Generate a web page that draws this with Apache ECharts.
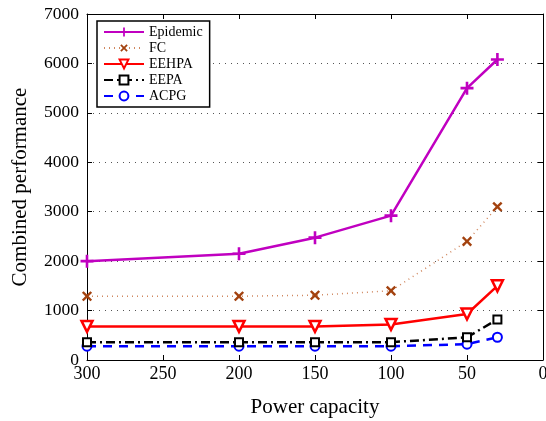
<!DOCTYPE html>
<html>
<head>
<meta charset="utf-8">
<script src="https://cdn.jsdelivr.net/npm/echarts@6/dist/echarts.min.js"></script>
<style>
  html, body { margin: 0; padding: 0; background: #fff; }
  #chart { width: 546px; height: 421px; }
</style>
</head>
<body>
<div id="chart"></div>
<script>
// power capacity values on the x axis
const capacity = [300, 200, 150, 100, 50, 30]
const xTicks = [0, 50, 100, 150, 200, 250, 300]
const yTicks = [0, 1000, 2000, 3000, 4000, 5000, 6000, 7000]

const epidemic = [2000, 2150, 2475, 2920, 5500, 6080]
const fc = [1290, 1290, 1310, 1400, 2400, 3100]
const eehpa = [680, 680, 680, 720, 930, 1500]
const eepa = [360, 360, 360, 360, 460, 820]
const acpg = [280, 280, 280, 280, 320, 460]

const font = 'Liberation Serif'
const plus = 'path://M4,0H6V4H10V6H6V10H4V6H0V4H4Z'

function pairs (vals) {
  return capacity.map((c, i) => [c, vals[i]])
}

const chart = echarts.init(document.getElementById('chart'))

const baseX = {
  type: 'value',
  inverse: true,
  min: xTicks[0],
  max: xTicks[xTicks.length - 1],
  interval: 50,
  axisLine: { onZero: false, lineStyle: { color: '#000', width: 1 } },
  axisTick: { inside: true, length: 5, lineStyle: { color: '#000' } },
  splitLine: { show: false }
}
const baseY = {
  type: 'value',
  min: yTicks[0],
  max: yTicks[yTicks.length - 1],
  interval: 1000,
  axisLine: { show: true, onZero: false, lineStyle: { color: '#000', width: 1 } },
  axisTick: { show: true, inside: true, length: 5, lineStyle: { color: '#000' } }
}

const option = {
  animation: false,
  backgroundColor: '#fff',
  textStyle: { fontFamily: font },
  grid: { left: 87, right: 3, top: 14, bottom: 61, containLabel: false, outerBoundsMode: 'none' },
  legend: {
    orient: 'vertical',
    left: 97,
    top: 21,
    itemWidth: 40,
    itemHeight: 11,
    itemGap: 2,
    padding: [4, 7, 4, 6],
    borderColor: '#000',
    borderWidth: 1.5,
    backgroundColor: '#fff',
    textStyle: { fontFamily: font, fontSize: 14, color: '#000' },
    data: ['Epidemic', 'FC', 'EEHPA', 'EEPA', 'ACPG']
  },
  xAxis: [
    Object.assign({}, baseX, {
      position: 'bottom',
      name: 'Power capacity',
      nameLocation: 'middle',
      nameGap: 37,
      nameTextStyle: { fontFamily: font, fontSize: 21, color: '#000' },
      axisLabel: { color: '#000', fontSize: 18, fontFamily: font, margin: 5 }
    }),
    Object.assign({}, baseX, { position: 'top', axisLabel: { show: false } })
  ],
  yAxis: [
    Object.assign({}, baseY, {
      position: 'left',
      name: 'Combined performance',
      nameLocation: 'middle',
      nameGap: 56,
      nameTextStyle: { fontFamily: font, fontSize: 21, color: '#000' },
      axisLabel: { color: '#000', fontSize: 17.5, fontFamily: font, margin: 8, formatter: v => String(v) },
      splitLine: { show: true, lineStyle: { color: '#555', type: [1, 5], width: 1 } }
    }),
    Object.assign({}, baseY, { position: 'right', axisLabel: { show: false }, splitLine: { show: false } })
  ],
  series: [
    {
      name: 'Epidemic',
      type: 'line',
      data: pairs(epidemic),
      symbol: plus,
      symbolSize: 13,
      itemStyle: { color: '#c000c0' },
      lineStyle: { color: '#c000c0', width: 2.5 },
      z: 5
    },
    {
      name: 'FC',
      type: 'line',
      data: pairs(fc),
      symbol: plus,
      symbolSize: 12,
      symbolRotate: 45,
      itemStyle: { color: '#a3420f' },
      lineStyle: { color: '#d08860', width: 1.5, type: [1, 4] },
      z: 4
    },
    {
      name: 'EEHPA',
      type: 'line',
      data: pairs(eehpa),
      symbol: 'triangle',
      symbolRotate: 180,
      symbolSize: 11,
      itemStyle: { color: '#fff', borderColor: '#ff0000', borderWidth: 2.5 },
      lineStyle: { color: '#ff0000', width: 2.5 },
      z: 3
    },
    {
      name: 'EEPA',
      type: 'line',
      data: pairs(eepa),
      symbol: 'rect',
      symbolSize: 8,
      itemStyle: { color: '#fff', borderColor: '#000', borderWidth: 2 },
      lineStyle: { color: '#000', width: 2.5, type: [9, 4, 2, 4] },
      z: 2
    },
    {
      name: 'ACPG',
      type: 'line',
      data: pairs(acpg),
      symbol: 'circle',
      symbolSize: 9,
      itemStyle: { color: '#fff', borderColor: '#0000ff', borderWidth: 2 },
      lineStyle: { color: '#0000ff', width: 2.5, type: [9, 7] },
      z: 1
    }
  ]
}

chart.setOption(option)
</script>
</body>
</html>
